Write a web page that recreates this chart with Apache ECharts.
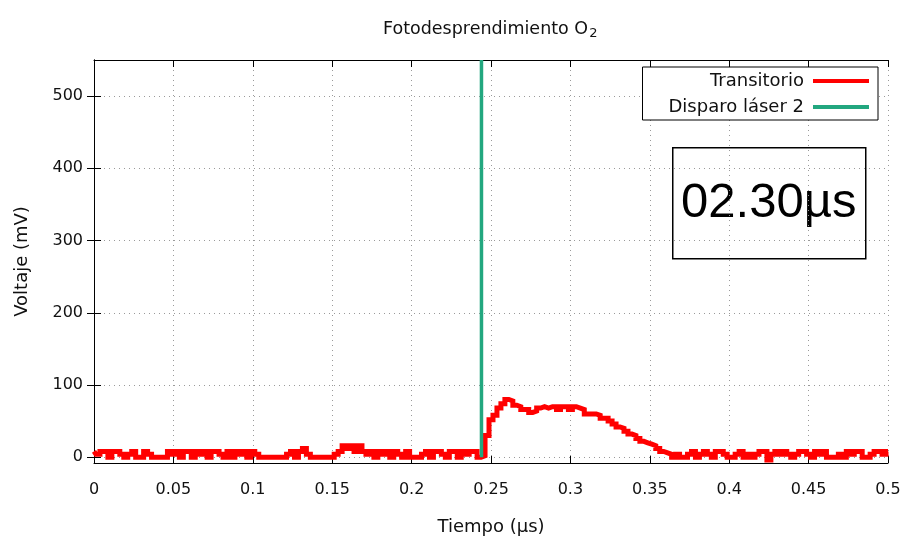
<!DOCTYPE html>
<html>
<head>
<meta charset="utf-8">
<script src="https://cdn.jsdelivr.net/npm/echarts@6/dist/echarts.min.js"></script>
<style>html,body{margin:0;padding:0;background:#fff}#c{width:906px;height:538px}</style>
</head>
<body>
<div id="c"></div>
<script>
// ---- data ----
var sampleStep = 0.0025; // µs between samples, t = 0 .. 0.5
var baseline = [
  8,4,8,8,0,8,8,4,
  0,4,8,0,0,8,4,0,0,
  0,0,
  8,4,8,0,8,8,0,8,4,8,0,8,8,4,0,
  8,0,8,4,8,0,8,4,
  0,0,0,0,0,0,0,
  4,8,0,8,12,4,
  0,0,0,0,0,0,
  4,8,
  16,12,16,8,16,8,
  4,8,0,8,4,8,0,8,4,0,8,
  0,0,0,
  4,8,0,8,8,4,0,8,8,0,8,4,8,8,0
];
var pulse = [
  2,30,52,58,68,74,80,78,72,70,66,66,62,64,68,70,68,70,70,66,
  70,70,66,70,68,66,60,60,60,58,54,54,50,46,42,40,36,32,30,26,
  22,20,18,16,12,8,6
];
var tail = [
  4,0,4,0,0,4,8,0,4,8,4,0,8,8,4,0,0,4,8,0,4,0,4,8,8,-4,
  4,8,4,8,4,0,4,8,8,4,0,8,4,8,0,0,0,4,0,8,4,8,8,0,0,4,8,8,4,8
];
var laserTime = 0.244;
var laserLine = [[laserTime, 0], [laserTime, 550]];
var xTicks = [0, 0.05, 0.1, 0.15, 0.2, 0.25, 0.3, 0.35, 0.4, 0.45, 0.5];
var yTicks = [0, 100, 200, 300, 400, 500];
var titleText = 'Fotodesprendimiento O';
var stampText = '02.30µs';

var voltage = baseline.concat(pulse, tail);
var transient = voltage.map(function (v, i) { return [+(i * sampleStep).toFixed(4), v]; });

var font = 'DejaVu Sans';
var chart = echarts.init(document.getElementById('c'), null, {renderer: 'canvas'});
var axisCommonY = {
  type: 'value', min: -8, max: 550,
  axisLine: {show: true, lineStyle: {color: '#000', width: 1}},
  axisTick: {show: true, inside: true, length: 7, customValues: yTicks, lineStyle: {color: '#000'}},
  minorTick: {show: false}
};
chart.setOption({
  animation: false,
  backgroundColor: '#fff',
  title: {
    text: titleText + '{s|2}',
    left: 378, top: 13,
    textStyle: {
      fontFamily: font, fontSize: 17.5, fontWeight: 'normal', color: '#111',
      rich: {s: {fontFamily: font, fontSize: 13, color: '#111', padding: [9, 0, 0, 1]}}
    }
  },
  grid: {left: 94, right: 18, top: 60, bottom: 75, outerBoundsMode: 'none', containLabel: false},
  legend: {
    orient: 'vertical', right: 28, top: 67,
    align: 'right',
    backgroundColor: '#fff', borderColor: '#000', borderWidth: 1,
    padding: [5, 9, 4, 26], itemGap: 8,
    itemWidth: 56, itemHeight: 4,
    textStyle: {fontFamily: font, fontSize: 18, color: '#111', padding: [0, 4, 0, 0]},
    data: [
      {name: 'Transitorio', icon: 'rect'},
      {name: 'Disparo láser 2', icon: 'rect'}
    ]
  },
  xAxis: [{
    type: 'value', min: 0, max: 0.5, interval: 0.05,
    axisLine: {show: true, onZero: false, lineStyle: {color: '#000'}},
    axisTick: {show: true, inside: true, length: 7, lineStyle: {color: '#000'}},
    axisLabel: {fontFamily: font, fontSize: 16, color: '#111', margin: 19,
      formatter: function (v) { return String(+v.toFixed(2)); }},
    splitLine: {show: true, lineStyle: {color: '#9a9a9a', type: [1, 4], width: 1}},
    name: 'Tiempo (µs)', nameLocation: 'middle', nameGap: 55,
    nameTextStyle: {fontFamily: font, fontSize: 18, color: '#111'}
  }, {
    type: 'value', min: 0, max: 0.5, interval: 0.05, position: 'top',
    axisLine: {show: true, onZero: false, lineStyle: {color: '#000'}},
    axisTick: {show: true, inside: true, length: 7, lineStyle: {color: '#000'}},
    axisLabel: {show: false}, splitLine: {show: false}
  }],
  yAxis: [Object.assign({}, axisCommonY, {
    position: 'left',
    axisLabel: {fontFamily: font, fontSize: 16, color: '#111', margin: 11, customValues: yTicks},
    splitLine: {show: true, lineStyle: {color: '#9a9a9a', type: [1, 4], width: 1}},
    name: 'Voltaje (mV)', nameLocation: 'middle', nameGap: 63,
    nameTextStyle: {fontFamily: font, fontSize: 18, color: '#111'}
  }), Object.assign({}, axisCommonY, {
    position: 'right',
    axisLabel: {show: false}, splitLine: {show: false}
  })],
  graphic: [{
    type: 'group', left: 672, top: 147, children: [
      {type: 'rect', shape: {x: 0, y: 0, width: 193, height: 111},
       style: {fill: '#fff', stroke: '#000', lineWidth: 1.5}},
      {type: 'text', x: 96, y: 56,
       style: {text: stampText, font: '49px "Liberation Sans"', fill: '#000',
               align: 'center', verticalAlign: 'middle'}}
    ]
  }],
  series: [{
    name: 'Transitorio', type: 'line', step: 'middle',
    data: transient, showSymbol: false, symbol: 'none',
    lineStyle: {color: '#ff0000', width: 5, cap: 'butt', join: 'miter'}, itemStyle: {color: '#ff0000'}
  }, {
    name: 'Disparo láser 2', type: 'line',
    data: laserLine, showSymbol: false, symbol: 'none',
    lineStyle: {color: '#22a77f', width: 3.5}, itemStyle: {color: '#22a77f'}
  }]
});
</script>
</body>
</html>
